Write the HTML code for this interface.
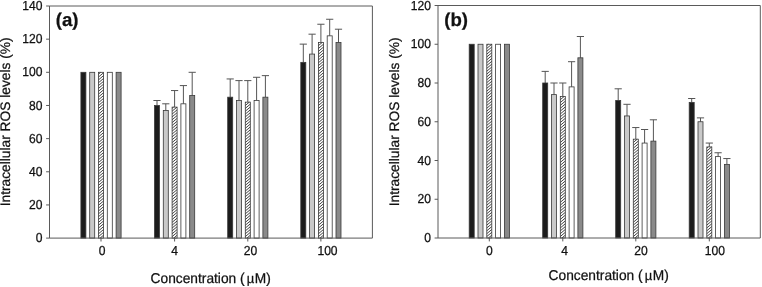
<!DOCTYPE html>
<html><head><meta charset="utf-8"><title>ROS levels</title>
<style>
html,body{margin:0;padding:0;background:#fff;}
body{width:762px;height:287px;overflow:hidden;}
svg{display:block;font-family:"Liberation Sans",sans-serif;will-change:transform;}
text{fill:#111;stroke:#111;stroke-width:0.25px;text-rendering:geometricPrecision;}
</style></head><body>
<svg width="762" height="287" viewBox="0 0 762 287">
<rect width="762" height="287" fill="#fff"/>
<rect x="80.90" y="72.31" width="5.0" height="165.79" fill="#1c1c1c" stroke="#383838" stroke-width="0.8"/>
<rect x="89.70" y="72.31" width="5.0" height="165.79" fill="#c9c9c9" stroke="#383838" stroke-width="0.8"/>
<rect x="98.50" y="72.31" width="5.0" height="165.79" fill="#fff"/>
<path d="M103.50 238.10L103.50 238.10M100.11 238.10L103.50 235.25M98.50 236.60L103.50 232.40M98.50 233.75L103.50 229.55M98.50 230.90L103.50 226.70M98.50 228.05L103.50 223.85M98.50 225.20L103.50 221.00M98.50 222.35L103.50 218.15M98.50 219.50L103.50 215.30M98.50 216.65L103.50 212.45M98.50 213.80L103.50 209.60M98.50 210.95L103.50 206.75M98.50 208.10L103.50 203.90M98.50 205.25L103.50 201.05M98.50 202.40L103.50 198.20M98.50 199.55L103.50 195.35M98.50 196.70L103.50 192.50M98.50 193.85L103.50 189.65M98.50 191.00L103.50 186.80M98.50 188.15L103.50 183.95M98.50 185.30L103.50 181.10M98.50 182.45L103.50 178.25M98.50 179.60L103.50 175.40M98.50 176.75L103.50 172.55M98.50 173.90L103.50 169.70M98.50 171.05L103.50 166.85M98.50 168.20L103.50 164.00M98.50 165.35L103.50 161.15M98.50 162.50L103.50 158.30M98.50 159.65L103.50 155.45M98.50 156.80L103.50 152.60M98.50 153.95L103.50 149.75M98.50 151.10L103.50 146.90M98.50 148.25L103.50 144.05M98.50 145.40L103.50 141.20M98.50 142.55L103.50 138.35M98.50 139.70L103.50 135.50M98.50 136.85L103.50 132.65M98.50 134.00L103.50 129.80M98.50 131.15L103.50 126.95M98.50 128.30L103.50 124.10M98.50 125.45L103.50 121.25M98.50 122.60L103.50 118.40M98.50 119.75L103.50 115.55M98.50 116.90L103.50 112.70M98.50 114.05L103.50 109.85M98.50 111.20L103.50 107.00M98.50 108.35L103.50 104.15M98.50 105.50L103.50 101.30M98.50 102.65L103.50 98.45M98.50 99.80L103.50 95.60M98.50 96.95L103.50 92.75M98.50 94.10L103.50 89.90M98.50 91.25L103.50 87.05M98.50 88.40L103.50 84.20M98.50 85.55L103.50 81.35M98.50 82.70L103.50 78.50M98.50 79.85L103.50 75.65M98.50 77.00L103.50 72.80M98.50 74.15L100.69 72.31" stroke="#111" stroke-width="0.8" fill="none"/>
<rect x="98.50" y="72.31" width="5.0" height="165.79" fill="none" stroke="#383838" stroke-width="0.8"/>
<rect x="107.30" y="72.31" width="5.0" height="165.79" fill="#ffffff" stroke="#383838" stroke-width="0.8"/>
<rect x="116.10" y="72.31" width="5.0" height="165.79" fill="#8a8a8a" stroke="#383838" stroke-width="0.8"/>
<path d="M157.00 105.47V100.50M153.40 100.50H160.60" stroke="#555" stroke-width="1" fill="none"/>
<rect x="154.50" y="105.47" width="5.0" height="132.63" fill="#1c1c1c" stroke="#383838" stroke-width="0.8"/>
<path d="M165.80 110.44V103.81M162.20 103.81H169.40" stroke="#555" stroke-width="1" fill="none"/>
<rect x="163.30" y="110.44" width="5.0" height="127.66" fill="#c9c9c9" stroke="#383838" stroke-width="0.8"/>
<path d="M174.60 107.13V90.55M171.00 90.55H178.20" stroke="#555" stroke-width="1" fill="none"/>
<rect x="172.10" y="107.13" width="5.0" height="130.97" fill="#fff"/>
<path d="M177.10 238.10L177.10 238.10M173.71 238.10L177.10 235.25M172.10 236.60L177.10 232.40M172.10 233.75L177.10 229.55M172.10 230.90L177.10 226.70M172.10 228.05L177.10 223.85M172.10 225.20L177.10 221.00M172.10 222.35L177.10 218.15M172.10 219.50L177.10 215.30M172.10 216.65L177.10 212.45M172.10 213.80L177.10 209.60M172.10 210.95L177.10 206.75M172.10 208.10L177.10 203.90M172.10 205.25L177.10 201.05M172.10 202.40L177.10 198.20M172.10 199.55L177.10 195.35M172.10 196.70L177.10 192.50M172.10 193.85L177.10 189.65M172.10 191.00L177.10 186.80M172.10 188.15L177.10 183.95M172.10 185.30L177.10 181.10M172.10 182.45L177.10 178.25M172.10 179.60L177.10 175.40M172.10 176.75L177.10 172.55M172.10 173.90L177.10 169.70M172.10 171.05L177.10 166.85M172.10 168.20L177.10 164.00M172.10 165.35L177.10 161.15M172.10 162.50L177.10 158.30M172.10 159.65L177.10 155.45M172.10 156.80L177.10 152.60M172.10 153.95L177.10 149.75M172.10 151.10L177.10 146.90M172.10 148.25L177.10 144.05M172.10 145.40L177.10 141.20M172.10 142.55L177.10 138.35M172.10 139.70L177.10 135.50M172.10 136.85L177.10 132.65M172.10 134.00L177.10 129.80M172.10 131.15L177.10 126.95M172.10 128.30L177.10 124.10M172.10 125.45L177.10 121.25M172.10 122.60L177.10 118.40M172.10 119.75L177.10 115.55M172.10 116.90L177.10 112.70M172.10 114.05L177.10 109.85M172.10 111.20L176.95 107.13M172.10 108.35L173.55 107.13" stroke="#111" stroke-width="0.8" fill="none"/>
<rect x="172.10" y="107.13" width="5.0" height="130.97" fill="none" stroke="#383838" stroke-width="0.8"/>
<path d="M183.40 103.81V85.58M179.80 85.58H187.00" stroke="#555" stroke-width="1" fill="none"/>
<rect x="180.90" y="103.81" width="5.0" height="134.29" fill="#ffffff" stroke="#383838" stroke-width="0.8"/>
<path d="M192.20 95.52V72.31M188.60 72.31H195.80" stroke="#555" stroke-width="1" fill="none"/>
<rect x="189.70" y="95.52" width="5.0" height="142.58" fill="#8a8a8a" stroke="#383838" stroke-width="0.8"/>
<path d="M230.20 97.18V78.95M226.60 78.95H233.80" stroke="#555" stroke-width="1" fill="none"/>
<rect x="227.70" y="97.18" width="5.0" height="140.92" fill="#1c1c1c" stroke="#383838" stroke-width="0.8"/>
<path d="M239.00 100.50V80.60M235.40 80.60H242.60" stroke="#555" stroke-width="1" fill="none"/>
<rect x="236.50" y="100.50" width="5.0" height="137.60" fill="#c9c9c9" stroke="#383838" stroke-width="0.8"/>
<path d="M247.80 102.16V80.60M244.20 80.60H251.40" stroke="#555" stroke-width="1" fill="none"/>
<rect x="245.30" y="102.16" width="5.0" height="135.94" fill="#fff"/>
<path d="M250.30 238.10L250.30 238.10M246.91 238.10L250.30 235.25M245.30 236.60L250.30 232.40M245.30 233.75L250.30 229.55M245.30 230.90L250.30 226.70M245.30 228.05L250.30 223.85M245.30 225.20L250.30 221.00M245.30 222.35L250.30 218.15M245.30 219.50L250.30 215.30M245.30 216.65L250.30 212.45M245.30 213.80L250.30 209.60M245.30 210.95L250.30 206.75M245.30 208.10L250.30 203.90M245.30 205.25L250.30 201.05M245.30 202.40L250.30 198.20M245.30 199.55L250.30 195.35M245.30 196.70L250.30 192.50M245.30 193.85L250.30 189.65M245.30 191.00L250.30 186.80M245.30 188.15L250.30 183.95M245.30 185.30L250.30 181.10M245.30 182.45L250.30 178.25M245.30 179.60L250.30 175.40M245.30 176.75L250.30 172.55M245.30 173.90L250.30 169.70M245.30 171.05L250.30 166.85M245.30 168.20L250.30 164.00M245.30 165.35L250.30 161.15M245.30 162.50L250.30 158.30M245.30 159.65L250.30 155.45M245.30 156.80L250.30 152.60M245.30 153.95L250.30 149.75M245.30 151.10L250.30 146.90M245.30 148.25L250.30 144.05M245.30 145.40L250.30 141.20M245.30 142.55L250.30 138.35M245.30 139.70L250.30 135.50M245.30 136.85L250.30 132.65M245.30 134.00L250.30 129.80M245.30 131.15L250.30 126.95M245.30 128.30L250.30 124.10M245.30 125.45L250.30 121.25M245.30 122.60L250.30 118.40M245.30 119.75L250.30 115.55M245.30 116.90L250.30 112.70M245.30 114.05L250.30 109.85M245.30 111.20L250.30 107.00M245.30 108.35L250.30 104.15M245.30 105.50L249.28 102.16M245.30 102.65L245.89 102.16" stroke="#111" stroke-width="0.8" fill="none"/>
<rect x="245.30" y="102.16" width="5.0" height="135.94" fill="none" stroke="#383838" stroke-width="0.8"/>
<path d="M256.60 100.50V77.29M253.00 77.29H260.20" stroke="#555" stroke-width="1" fill="none"/>
<rect x="254.10" y="100.50" width="5.0" height="137.60" fill="#ffffff" stroke="#383838" stroke-width="0.8"/>
<path d="M265.40 97.18V75.63M261.80 75.63H269.00" stroke="#555" stroke-width="1" fill="none"/>
<rect x="262.90" y="97.18" width="5.0" height="140.92" fill="#8a8a8a" stroke="#383838" stroke-width="0.8"/>
<path d="M303.30 62.37V44.13M299.70 44.13H306.90" stroke="#555" stroke-width="1" fill="none"/>
<rect x="300.80" y="62.37" width="5.0" height="175.73" fill="#1c1c1c" stroke="#383838" stroke-width="0.8"/>
<path d="M312.10 54.08V34.18M308.50 34.18H315.70" stroke="#555" stroke-width="1" fill="none"/>
<rect x="309.60" y="54.08" width="5.0" height="184.02" fill="#c9c9c9" stroke="#383838" stroke-width="0.8"/>
<path d="M320.90 42.47V24.24M317.30 24.24H324.50" stroke="#555" stroke-width="1" fill="none"/>
<rect x="318.40" y="42.47" width="5.0" height="195.63" fill="#fff"/>
<path d="M323.40 238.10L323.40 238.10M320.01 238.10L323.40 235.25M318.40 236.60L323.40 232.40M318.40 233.75L323.40 229.55M318.40 230.90L323.40 226.70M318.40 228.05L323.40 223.85M318.40 225.20L323.40 221.00M318.40 222.35L323.40 218.15M318.40 219.50L323.40 215.30M318.40 216.65L323.40 212.45M318.40 213.80L323.40 209.60M318.40 210.95L323.40 206.75M318.40 208.10L323.40 203.90M318.40 205.25L323.40 201.05M318.40 202.40L323.40 198.20M318.40 199.55L323.40 195.35M318.40 196.70L323.40 192.50M318.40 193.85L323.40 189.65M318.40 191.00L323.40 186.80M318.40 188.15L323.40 183.95M318.40 185.30L323.40 181.10M318.40 182.45L323.40 178.25M318.40 179.60L323.40 175.40M318.40 176.75L323.40 172.55M318.40 173.90L323.40 169.70M318.40 171.05L323.40 166.85M318.40 168.20L323.40 164.00M318.40 165.35L323.40 161.15M318.40 162.50L323.40 158.30M318.40 159.65L323.40 155.45M318.40 156.80L323.40 152.60M318.40 153.95L323.40 149.75M318.40 151.10L323.40 146.90M318.40 148.25L323.40 144.05M318.40 145.40L323.40 141.20M318.40 142.55L323.40 138.35M318.40 139.70L323.40 135.50M318.40 136.85L323.40 132.65M318.40 134.00L323.40 129.80M318.40 131.15L323.40 126.95M318.40 128.30L323.40 124.10M318.40 125.45L323.40 121.25M318.40 122.60L323.40 118.40M318.40 119.75L323.40 115.55M318.40 116.90L323.40 112.70M318.40 114.05L323.40 109.85M318.40 111.20L323.40 107.00M318.40 108.35L323.40 104.15M318.40 105.50L323.40 101.30M318.40 102.65L323.40 98.45M318.40 99.80L323.40 95.60M318.40 96.95L323.40 92.75M318.40 94.10L323.40 89.90M318.40 91.25L323.40 87.05M318.40 88.40L323.40 84.20M318.40 85.55L323.40 81.35M318.40 82.70L323.40 78.50M318.40 79.85L323.40 75.65M318.40 77.00L323.40 72.80M318.40 74.15L323.40 69.95M318.40 71.30L323.40 67.10M318.40 68.45L323.40 64.25M318.40 65.60L323.40 61.40M318.40 62.75L323.40 58.55M318.40 59.90L323.40 55.70M318.40 57.05L323.40 52.85M318.40 54.20L323.40 50.00M318.40 51.35L323.40 47.15M318.40 48.50L323.40 44.30M318.40 45.65L322.18 42.47M318.40 42.80L318.79 42.47" stroke="#111" stroke-width="0.8" fill="none"/>
<rect x="318.40" y="42.47" width="5.0" height="195.63" fill="none" stroke="#383838" stroke-width="0.8"/>
<path d="M329.70 35.84V19.26M326.10 19.26H333.30" stroke="#555" stroke-width="1" fill="none"/>
<rect x="327.20" y="35.84" width="5.0" height="202.26" fill="#ffffff" stroke="#383838" stroke-width="0.8"/>
<path d="M338.50 42.47V29.21M334.90 29.21H342.10" stroke="#555" stroke-width="1" fill="none"/>
<rect x="336.00" y="42.47" width="5.0" height="195.63" fill="#8a8a8a" stroke="#383838" stroke-width="0.8"/>
<path d="M49.5 6.0H372.4V238.1H49.5Z" fill="none" stroke="#5a5a5a" stroke-width="1.0"/>
<path d="M46.10 238.10H49.5" stroke="#5a5a5a" stroke-width="1.0"/>
<text transform="translate(42.50 242.20) scale(1 1.08)" text-anchor="end" font-size="12.1">0</text>
<path d="M46.10 204.94H49.5" stroke="#5a5a5a" stroke-width="1.0"/>
<text transform="translate(42.50 209.04) scale(1 1.08)" text-anchor="end" font-size="12.1">20</text>
<path d="M46.10 171.79H49.5" stroke="#5a5a5a" stroke-width="1.0"/>
<text transform="translate(42.50 175.89) scale(1 1.08)" text-anchor="end" font-size="12.1">40</text>
<path d="M46.10 138.63H49.5" stroke="#5a5a5a" stroke-width="1.0"/>
<text transform="translate(42.50 142.73) scale(1 1.08)" text-anchor="end" font-size="12.1">60</text>
<path d="M46.10 105.47H49.5" stroke="#5a5a5a" stroke-width="1.0"/>
<text transform="translate(42.50 109.57) scale(1 1.08)" text-anchor="end" font-size="12.1">80</text>
<path d="M46.10 72.31H49.5" stroke="#5a5a5a" stroke-width="1.0"/>
<text transform="translate(42.50 76.41) scale(1 1.08)" text-anchor="end" font-size="12.1">100</text>
<path d="M46.10 39.16H49.5" stroke="#5a5a5a" stroke-width="1.0"/>
<text transform="translate(42.50 43.26) scale(1 1.08)" text-anchor="end" font-size="12.1">120</text>
<path d="M46.10 6.00H49.5" stroke="#5a5a5a" stroke-width="1.0"/>
<text transform="translate(42.50 10.10) scale(1 1.08)" text-anchor="end" font-size="12.1">140</text>
<path d="M101.00 238.1V241.50" stroke="#5a5a5a" stroke-width="1.0"/>
<text transform="translate(102.00 254.85) scale(1 1.08)" text-anchor="middle" font-size="12.1">0</text>
<path d="M174.60 238.1V241.50" stroke="#5a5a5a" stroke-width="1.0"/>
<text transform="translate(174.50 254.85) scale(1 1.08)" text-anchor="middle" font-size="12.1">4</text>
<path d="M247.80 238.1V241.50" stroke="#5a5a5a" stroke-width="1.0"/>
<text transform="translate(250.40 254.85) scale(1 1.08)" text-anchor="middle" font-size="12.1">20</text>
<path d="M320.90 238.1V241.50" stroke="#5a5a5a" stroke-width="1.0"/>
<text transform="translate(327.50 254.85) scale(1 1.08)" text-anchor="middle" font-size="12.1">100</text>
<text transform="translate(150.6 282.7) scale(1 1.03)" font-size="13.75">Concentration (<tspan dx="2.2" font-size="13">µ</tspan><tspan dx="0.5">M)</tspan></text>
<text transform="translate(10.1 206.3) rotate(-90)" font-size="13.75">Intracellular ROS levels (%)</text>
<text x="55.8" y="25.8" font-size="18.6" font-weight="bold">(a)</text>
<rect x="469.20" y="44.25" width="5.0" height="193.75" fill="#1c1c1c" stroke="#383838" stroke-width="0.8"/>
<rect x="478.00" y="44.25" width="5.0" height="193.75" fill="#c9c9c9" stroke="#383838" stroke-width="0.8"/>
<rect x="486.80" y="44.25" width="5.0" height="193.75" fill="#fff"/>
<path d="M491.80 238.00L491.80 238.00M488.41 238.00L491.80 235.15M486.80 236.50L491.80 232.30M486.80 233.65L491.80 229.45M486.80 230.80L491.80 226.60M486.80 227.95L491.80 223.75M486.80 225.10L491.80 220.90M486.80 222.25L491.80 218.05M486.80 219.40L491.80 215.20M486.80 216.55L491.80 212.35M486.80 213.70L491.80 209.50M486.80 210.85L491.80 206.65M486.80 208.00L491.80 203.80M486.80 205.15L491.80 200.95M486.80 202.30L491.80 198.10M486.80 199.45L491.80 195.25M486.80 196.60L491.80 192.40M486.80 193.75L491.80 189.55M486.80 190.90L491.80 186.70M486.80 188.05L491.80 183.85M486.80 185.20L491.80 181.00M486.80 182.35L491.80 178.15M486.80 179.50L491.80 175.30M486.80 176.65L491.80 172.45M486.80 173.80L491.80 169.60M486.80 170.95L491.80 166.75M486.80 168.10L491.80 163.90M486.80 165.25L491.80 161.05M486.80 162.40L491.80 158.20M486.80 159.55L491.80 155.35M486.80 156.70L491.80 152.50M486.80 153.85L491.80 149.65M486.80 151.00L491.80 146.80M486.80 148.15L491.80 143.95M486.80 145.30L491.80 141.10M486.80 142.45L491.80 138.25M486.80 139.60L491.80 135.40M486.80 136.75L491.80 132.55M486.80 133.90L491.80 129.70M486.80 131.05L491.80 126.85M486.80 128.20L491.80 124.00M486.80 125.35L491.80 121.15M486.80 122.50L491.80 118.30M486.80 119.65L491.80 115.45M486.80 116.80L491.80 112.60M486.80 113.95L491.80 109.75M486.80 111.10L491.80 106.90M486.80 108.25L491.80 104.05M486.80 105.40L491.80 101.20M486.80 102.55L491.80 98.35M486.80 99.70L491.80 95.50M486.80 96.85L491.80 92.65M486.80 94.00L491.80 89.80M486.80 91.15L491.80 86.95M486.80 88.30L491.80 84.10M486.80 85.45L491.80 81.25M486.80 82.60L491.80 78.40M486.80 79.75L491.80 75.55M486.80 76.90L491.80 72.70M486.80 74.05L491.80 69.85M486.80 71.20L491.80 67.00M486.80 68.35L491.80 64.15M486.80 65.50L491.80 61.30M486.80 62.65L491.80 58.45M486.80 59.80L491.80 55.60M486.80 56.95L491.80 52.75M486.80 54.10L491.80 49.90M486.80 51.25L491.80 47.05M486.80 48.40L491.74 44.25M486.80 45.55L488.35 44.25" stroke="#111" stroke-width="0.8" fill="none"/>
<rect x="486.80" y="44.25" width="5.0" height="193.75" fill="none" stroke="#383838" stroke-width="0.8"/>
<rect x="495.60" y="44.25" width="5.0" height="193.75" fill="#ffffff" stroke="#383838" stroke-width="0.8"/>
<rect x="504.40" y="44.25" width="5.0" height="193.75" fill="#8a8a8a" stroke="#383838" stroke-width="0.8"/>
<path d="M545.20 83.00V71.38M541.60 71.38H548.80" stroke="#555" stroke-width="1" fill="none"/>
<rect x="542.70" y="83.00" width="5.0" height="155.00" fill="#1c1c1c" stroke="#383838" stroke-width="0.8"/>
<path d="M554.00 94.62V83.00M550.40 83.00H557.60" stroke="#555" stroke-width="1" fill="none"/>
<rect x="551.50" y="94.62" width="5.0" height="143.38" fill="#c9c9c9" stroke="#383838" stroke-width="0.8"/>
<path d="M562.80 96.56V83.00M559.20 83.00H566.40" stroke="#555" stroke-width="1" fill="none"/>
<rect x="560.30" y="96.56" width="5.0" height="141.44" fill="#fff"/>
<path d="M565.30 238.00L565.30 238.00M561.91 238.00L565.30 235.15M560.30 236.50L565.30 232.30M560.30 233.65L565.30 229.45M560.30 230.80L565.30 226.60M560.30 227.95L565.30 223.75M560.30 225.10L565.30 220.90M560.30 222.25L565.30 218.05M560.30 219.40L565.30 215.20M560.30 216.55L565.30 212.35M560.30 213.70L565.30 209.50M560.30 210.85L565.30 206.65M560.30 208.00L565.30 203.80M560.30 205.15L565.30 200.95M560.30 202.30L565.30 198.10M560.30 199.45L565.30 195.25M560.30 196.60L565.30 192.40M560.30 193.75L565.30 189.55M560.30 190.90L565.30 186.70M560.30 188.05L565.30 183.85M560.30 185.20L565.30 181.00M560.30 182.35L565.30 178.15M560.30 179.50L565.30 175.30M560.30 176.65L565.30 172.45M560.30 173.80L565.30 169.60M560.30 170.95L565.30 166.75M560.30 168.10L565.30 163.90M560.30 165.25L565.30 161.05M560.30 162.40L565.30 158.20M560.30 159.55L565.30 155.35M560.30 156.70L565.30 152.50M560.30 153.85L565.30 149.65M560.30 151.00L565.30 146.80M560.30 148.15L565.30 143.95M560.30 145.30L565.30 141.10M560.30 142.45L565.30 138.25M560.30 139.60L565.30 135.40M560.30 136.75L565.30 132.55M560.30 133.90L565.30 129.70M560.30 131.05L565.30 126.85M560.30 128.20L565.30 124.00M560.30 125.35L565.30 121.15M560.30 122.50L565.30 118.30M560.30 119.65L565.30 115.45M560.30 116.80L565.30 112.60M560.30 113.95L565.30 109.75M560.30 111.10L565.30 106.90M560.30 108.25L565.30 104.05M560.30 105.40L565.30 101.20M560.30 102.55L565.30 98.35M560.30 99.70L564.04 96.56M560.30 96.85L560.64 96.56" stroke="#111" stroke-width="0.8" fill="none"/>
<rect x="560.30" y="96.56" width="5.0" height="141.44" fill="none" stroke="#383838" stroke-width="0.8"/>
<path d="M571.60 86.88V61.69M568.00 61.69H575.20" stroke="#555" stroke-width="1" fill="none"/>
<rect x="569.10" y="86.88" width="5.0" height="151.12" fill="#ffffff" stroke="#383838" stroke-width="0.8"/>
<path d="M580.40 57.81V36.50M576.80 36.50H584.00" stroke="#555" stroke-width="1" fill="none"/>
<rect x="577.90" y="57.81" width="5.0" height="180.19" fill="#8a8a8a" stroke="#383838" stroke-width="0.8"/>
<path d="M618.20 100.44V88.81M614.60 88.81H621.80" stroke="#555" stroke-width="1" fill="none"/>
<rect x="615.70" y="100.44" width="5.0" height="137.56" fill="#1c1c1c" stroke="#383838" stroke-width="0.8"/>
<path d="M627.00 115.94V104.31M623.40 104.31H630.60" stroke="#555" stroke-width="1" fill="none"/>
<rect x="624.50" y="115.94" width="5.0" height="122.06" fill="#c9c9c9" stroke="#383838" stroke-width="0.8"/>
<path d="M635.80 139.19V127.56M632.20 127.56H639.40" stroke="#555" stroke-width="1" fill="none"/>
<rect x="633.30" y="139.19" width="5.0" height="98.81" fill="#fff"/>
<path d="M638.30 238.00L638.30 238.00M634.91 238.00L638.30 235.15M633.30 236.50L638.30 232.30M633.30 233.65L638.30 229.45M633.30 230.80L638.30 226.60M633.30 227.95L638.30 223.75M633.30 225.10L638.30 220.90M633.30 222.25L638.30 218.05M633.30 219.40L638.30 215.20M633.30 216.55L638.30 212.35M633.30 213.70L638.30 209.50M633.30 210.85L638.30 206.65M633.30 208.00L638.30 203.80M633.30 205.15L638.30 200.95M633.30 202.30L638.30 198.10M633.30 199.45L638.30 195.25M633.30 196.60L638.30 192.40M633.30 193.75L638.30 189.55M633.30 190.90L638.30 186.70M633.30 188.05L638.30 183.85M633.30 185.20L638.30 181.00M633.30 182.35L638.30 178.15M633.30 179.50L638.30 175.30M633.30 176.65L638.30 172.45M633.30 173.80L638.30 169.60M633.30 170.95L638.30 166.75M633.30 168.10L638.30 163.90M633.30 165.25L638.30 161.05M633.30 162.40L638.30 158.20M633.30 159.55L638.30 155.35M633.30 156.70L638.30 152.50M633.30 153.85L638.30 149.65M633.30 151.00L638.30 146.80M633.30 148.15L638.30 143.95M633.30 145.30L638.30 141.10M633.30 142.45L637.18 139.19M633.30 139.60L633.79 139.19" stroke="#111" stroke-width="0.8" fill="none"/>
<rect x="633.30" y="139.19" width="5.0" height="98.81" fill="none" stroke="#383838" stroke-width="0.8"/>
<path d="M644.60 143.06V129.50M641.00 129.50H648.20" stroke="#555" stroke-width="1" fill="none"/>
<rect x="642.10" y="143.06" width="5.0" height="94.94" fill="#ffffff" stroke="#383838" stroke-width="0.8"/>
<path d="M653.40 141.12V119.81M649.80 119.81H657.00" stroke="#555" stroke-width="1" fill="none"/>
<rect x="650.90" y="141.12" width="5.0" height="96.88" fill="#8a8a8a" stroke="#383838" stroke-width="0.8"/>
<path d="M691.70 102.38V98.50M688.10 98.50H695.30" stroke="#555" stroke-width="1" fill="none"/>
<rect x="689.20" y="102.38" width="5.0" height="135.62" fill="#1c1c1c" stroke="#383838" stroke-width="0.8"/>
<path d="M700.50 121.75V117.88M696.90 117.88H704.10" stroke="#555" stroke-width="1" fill="none"/>
<rect x="698.00" y="121.75" width="5.0" height="116.25" fill="#c9c9c9" stroke="#383838" stroke-width="0.8"/>
<path d="M709.30 146.94V143.06M705.70 143.06H712.90" stroke="#555" stroke-width="1" fill="none"/>
<rect x="706.80" y="146.94" width="5.0" height="91.06" fill="#fff"/>
<path d="M711.80 238.00L711.80 238.00M708.41 238.00L711.80 235.15M706.80 236.50L711.80 232.30M706.80 233.65L711.80 229.45M706.80 230.80L711.80 226.60M706.80 227.95L711.80 223.75M706.80 225.10L711.80 220.90M706.80 222.25L711.80 218.05M706.80 219.40L711.80 215.20M706.80 216.55L711.80 212.35M706.80 213.70L711.80 209.50M706.80 210.85L711.80 206.65M706.80 208.00L711.80 203.80M706.80 205.15L711.80 200.95M706.80 202.30L711.80 198.10M706.80 199.45L711.80 195.25M706.80 196.60L711.80 192.40M706.80 193.75L711.80 189.55M706.80 190.90L711.80 186.70M706.80 188.05L711.80 183.85M706.80 185.20L711.80 181.00M706.80 182.35L711.80 178.15M706.80 179.50L711.80 175.30M706.80 176.65L711.80 172.45M706.80 173.80L711.80 169.60M706.80 170.95L711.80 166.75M706.80 168.10L711.80 163.90M706.80 165.25L711.80 161.05M706.80 162.40L711.80 158.20M706.80 159.55L711.80 155.35M706.80 156.70L711.80 152.50M706.80 153.85L711.80 149.65M706.80 151.00L711.64 146.94M706.80 148.15L708.24 146.94" stroke="#111" stroke-width="0.8" fill="none"/>
<rect x="706.80" y="146.94" width="5.0" height="91.06" fill="none" stroke="#383838" stroke-width="0.8"/>
<path d="M718.10 156.62V152.75M714.50 152.75H721.70" stroke="#555" stroke-width="1" fill="none"/>
<rect x="715.60" y="156.62" width="5.0" height="81.38" fill="#ffffff" stroke="#383838" stroke-width="0.8"/>
<path d="M726.90 164.38V158.56M723.30 158.56H730.50" stroke="#555" stroke-width="1" fill="none"/>
<rect x="724.40" y="164.38" width="5.0" height="73.62" fill="#8a8a8a" stroke="#383838" stroke-width="0.8"/>
<path d="M438.0 5.5H760.3V238.0H438.0Z" fill="none" stroke="#5a5a5a" stroke-width="1.0"/>
<path d="M434.60 238.00H438.0" stroke="#5a5a5a" stroke-width="1.0"/>
<text transform="translate(431.00 242.10) scale(1 1.08)" text-anchor="end" font-size="12.1">0</text>
<path d="M434.60 199.25H438.0" stroke="#5a5a5a" stroke-width="1.0"/>
<text transform="translate(431.00 203.35) scale(1 1.08)" text-anchor="end" font-size="12.1">20</text>
<path d="M434.60 160.50H438.0" stroke="#5a5a5a" stroke-width="1.0"/>
<text transform="translate(431.00 164.60) scale(1 1.08)" text-anchor="end" font-size="12.1">40</text>
<path d="M434.60 121.75H438.0" stroke="#5a5a5a" stroke-width="1.0"/>
<text transform="translate(431.00 125.85) scale(1 1.08)" text-anchor="end" font-size="12.1">60</text>
<path d="M434.60 83.00H438.0" stroke="#5a5a5a" stroke-width="1.0"/>
<text transform="translate(431.00 87.10) scale(1 1.08)" text-anchor="end" font-size="12.1">80</text>
<path d="M434.60 44.25H438.0" stroke="#5a5a5a" stroke-width="1.0"/>
<text transform="translate(431.00 48.35) scale(1 1.08)" text-anchor="end" font-size="12.1">100</text>
<path d="M434.60 5.50H438.0" stroke="#5a5a5a" stroke-width="1.0"/>
<text transform="translate(431.00 9.60) scale(1 1.08)" text-anchor="end" font-size="12.1">120</text>
<path d="M489.30 238.0V241.40" stroke="#5a5a5a" stroke-width="1.0"/>
<text transform="translate(489.30 254.85) scale(1 1.08)" text-anchor="middle" font-size="12.1">0</text>
<path d="M562.80 238.0V241.40" stroke="#5a5a5a" stroke-width="1.0"/>
<text transform="translate(564.70 254.85) scale(1 1.08)" text-anchor="middle" font-size="12.1">4</text>
<path d="M635.80 238.0V241.40" stroke="#5a5a5a" stroke-width="1.0"/>
<text transform="translate(641.00 254.85) scale(1 1.08)" text-anchor="middle" font-size="12.1">20</text>
<path d="M709.30 238.0V241.40" stroke="#5a5a5a" stroke-width="1.0"/>
<text transform="translate(714.90 254.85) scale(1 1.08)" text-anchor="middle" font-size="12.1">100</text>
<text transform="translate(548.6 279.6) scale(1 1.03)" font-size="13.75">Concentration (<tspan dx="2.2" font-size="13">µ</tspan><tspan dx="0.5">M)</tspan></text>
<text transform="translate(398.9 206.3) rotate(-90)" font-size="13.75">Intracellular ROS levels (%)</text>
<text x="444.2" y="25.8" font-size="18.6" font-weight="bold">(b)</text>
</svg>
</body></html>
